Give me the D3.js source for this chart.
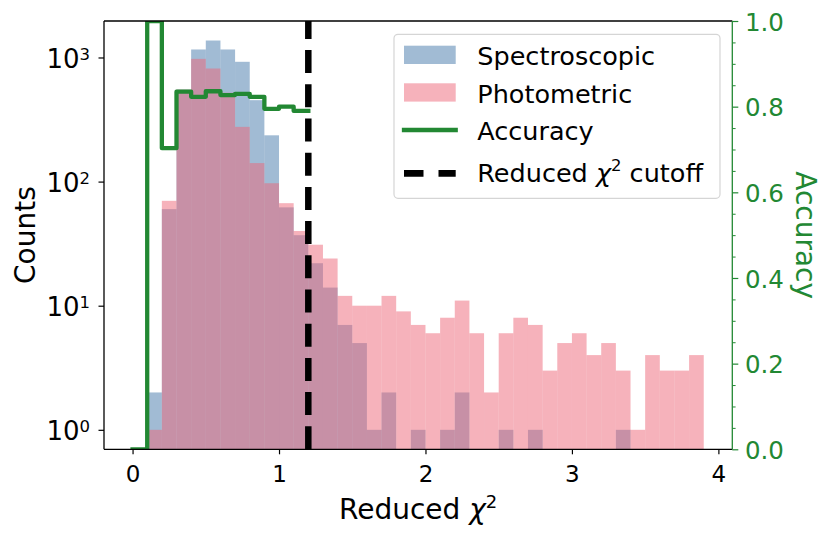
<!DOCTYPE html>
<html>
<head>
<meta charset="utf-8">
<script src="https://cdn.jsdelivr.net/npm/d3@7"></script>
<style>
  html, body { margin: 0; padding: 0; background: #ffffff; }
  svg { display: block; }
  text { font-family: "DejaVu Sans", sans-serif; }
</style>
</head>
<body>
<svg id="chart" width="831" height="538"></svg>
<script>
// ---- data ----
const binStarts = d3.range(39).map(i => +(i * 0.1).toFixed(1));
const binWidth = 0.1;
const spectroscopic = [0, 2, 60, 550, 1160, 1370, 1160, 923, 453, 236, 62, 37, 22, 14, 7, 5, 1, 2, 0, 1,
  0, 1, 2, 0, 0, 1, 0, 1, 0, 0, 0, 0, 0, 1, 0, 0, 0, 0, 0];
const photometric = [0, 1, 70, 550, 975, 815, 520, 276, 141, 97, 67, 40, 31, 24, 12, 10, 10, 12, 9, 7,
  6, 8, 11, 6, 2, 6, 8, 7, 3, 5, 6, 4, 5, 3, 1, 4, 3, 3, 4];
const accuracyStarts = [0.0, 0.1, 0.2, 0.3, 0.4, 0.5, 0.6, 0.7, 0.8, 0.9, 1.0, 1.1];
const accuracy = [0, 1.0, 0.703, 0.835, 0.823, 0.836, 0.827, 0.830, 0.823, 0.795, 0.800, 0.790];
const cutoff = 1.2;
const xTicks = [0, 1, 2, 3, 4];
const yTicks = [1, 10, 100, 1000];
const yTickExp = ["0", "1", "2", "3"];
const accTicks = [0, 0.2, 0.4, 0.6, 0.8, 1.0];
const accMinor = d3.range(21).map(i => +(i * 0.05).toFixed(2)).filter(v => Math.round(v * 100) % 20 !== 0);

// ---- styles ----
const BLUE = "#4477AA", RED = "#EE6677", GREEN = "#228833";
const L = 104, R = 732.3, T = 21, B = 449.3;

const svg = d3.select("#chart");
const x = d3.scaleLinear().domain([-0.195, 4.095]).range([L, R]);
const y = d3.scaleLog().domain([Math.pow(10, -0.157), Math.pow(10, 3.294)]).range([B, T]);
const ya = d3.scaleLinear().domain([0, 1]).range([B, T]);

svg.append("defs").append("clipPath").attr("id", "plotclip")
  .append("rect").attr("x", L).attr("y", T).attr("width", R - L).attr("height", B - T);

const plot = svg.append("g").attr("clip-path", "url(#plotclip)");

function drawHist(values, color) {
  const data = binStarts.map((s, i) => ({ s, v: values[i] })).filter(d => d.v > 0);
  plot.append("g").selectAll("rect").data(data).join("rect")
    .attr("x", d => x(d.s))
    .attr("width", d => x(d.s + binWidth) - x(d.s))
    .attr("y", d => y(d.v))
    .attr("height", d => B - y(d.v))
    .attr("fill", color)
    .attr("fill-opacity", 0.5);
}
drawHist(spectroscopic, BLUE);
drawHist(photometric, RED);

// accuracy step line
const accPts = accuracyStarts.map((s, i) => [s, accuracy[i]]);
accPts.push([accuracyStarts[accuracyStarts.length - 1] + binWidth, accuracy[accuracy.length - 1]]);
const stepLine = d3.line().x(d => x(d[0])).y(d => ya(d[1])).curve(d3.curveStepAfter);
plot.append("path").attr("d", stepLine(accPts))
  .attr("fill", "none").attr("stroke", GREEN).attr("stroke-width", 4.3)
  .attr("stroke-linecap", "square").attr("stroke-linejoin", "round");

// cutoff line (drawn from bottom up)
plot.append("line")
  .attr("x1", x(cutoff)).attr("x2", x(cutoff)).attr("y1", B).attr("y2", T)
  .attr("stroke", "#000").attr("stroke-width", 6.5).attr("stroke-dasharray", "23,11.2");

// ---- axes ----
const xAxis = svg.append("g").attr("transform", `translate(0,${B})`)
  .call(d3.axisBottom(x).tickValues(xTicks).tickSize(5).tickFormat(d3.format("d")));
xAxis.select(".domain").remove();
xAxis.selectAll(".tick line").attr("stroke", "#000").attr("stroke-width", 1.2);
xAxis.selectAll(".tick text").attr("y", 32.4).attr("dy", 0)
  .attr("font-size", 23).attr("fill", "#000").attr("font-family", "DejaVu Sans");

const yAxis = svg.append("g").attr("transform", `translate(${L},0)`)
  .call(d3.axisLeft(y).tickValues(yTicks).tickSize(5.5).tickFormat(""));
yAxis.select(".domain").remove();
yAxis.selectAll(".tick line").attr("stroke", "#000").attr("stroke-width", 1.2);
yAxis.selectAll(".tick text").remove();
yAxis.selectAll(".tick").each(function (d, i) {
  const t = d3.select(this).append("text")
    .attr("x", -14).attr("y", 9.7).attr("text-anchor", "end")
    .attr("fill", "#000").attr("font-family", "DejaVu Sans");
  t.append("tspan").attr("font-size", 26).text("10");
  t.append("tspan").attr("font-size", 16.5).attr("dy", -8).text(yTickExp[i]);
});

const aAxis = svg.append("g").attr("transform", `translate(${R},0)`)
  .call(d3.axisRight(ya).tickValues(accTicks).tickSize(6).tickFormat(d3.format(".1f")));
aAxis.select(".domain").remove();
aAxis.selectAll(".tick line").attr("stroke", GREEN).attr("stroke-width", 1.2);
aAxis.selectAll(".tick text").attr("x", 12.7).attr("dy", 0).attr("y", 9.2)
  .attr("font-size", 24.5).attr("fill", GREEN).attr("font-family", "DejaVu Sans");

const aMinor = svg.append("g").attr("transform", `translate(${R},0)`)
  .call(d3.axisRight(ya).tickValues(accMinor).tickSize(3.3).tickFormat(""));
aMinor.select(".domain").remove();
aMinor.selectAll(".tick line").attr("stroke", GREEN).attr("stroke-width", 1);

// spines
svg.append("line").attr("x1", L).attr("x2", R).attr("y1", T).attr("y2", T).attr("stroke", "#000").attr("stroke-width", 1.3);
svg.append("line").attr("x1", L).attr("x2", R).attr("y1", B).attr("y2", B).attr("stroke", "#000").attr("stroke-width", 1.3);
svg.append("line").attr("x1", L).attr("x2", L).attr("y1", T).attr("y2", B).attr("stroke", "#000").attr("stroke-width", 1.3);
svg.append("line").attr("x1", R).attr("x2", R).attr("y1", T).attr("y2", B).attr("stroke", GREEN).attr("stroke-width", 1.3);

// axis labels
const xl = svg.append("text").attr("x", (L + R) / 2).attr("y", 519.3).attr("text-anchor", "middle")
  .attr("font-size", 28).attr("fill", "#000");
xl.append("tspan").text("Reduced ");
xl.append("tspan").attr("font-style", "italic").text("χ");
xl.append("tspan").attr("font-size", 18).attr("dy", -11.5).text("2");

svg.append("text").attr("transform", `translate(35,${(T + B) / 2}) rotate(-90)`)
  .attr("text-anchor", "middle").attr("font-size", 28).attr("fill", "#000").text("Counts");

svg.append("text").attr("transform", `translate(796.4,${(T + B) / 2}) rotate(90)`)
  .attr("text-anchor", "middle").attr("font-size", 28).attr("fill", GREEN).text("Accuracy");

// ---- legend ----
const lg = svg.append("g");
lg.append("rect").attr("x", 394).attr("y", 34.3).attr("width", 326).attr("height", 164)
  .attr("rx", 4).attr("fill", "#fff").attr("fill-opacity", 0.8).attr("stroke", "#d5d5d5").attr("stroke-width", 1.2);
lg.append("rect").attr("x", 404).attr("y", 45.7).attr("width", 51.7).attr("height", 18.3)
  .attr("fill", BLUE).attr("fill-opacity", 0.5);
lg.append("rect").attr("x", 404).attr("y", 83.3).attr("width", 51.7).attr("height", 18.3)
  .attr("fill", RED).attr("fill-opacity", 0.5);
lg.append("line").attr("x1", 404).attr("x2", 455.7).attr("y1", 130).attr("y2", 130)
  .attr("stroke", GREEN).attr("stroke-width", 4.3).attr("stroke-linecap", "square");
lg.append("line").attr("x1", 404).attr("x2", 455.7).attr("y1", 173.3).attr("y2", 173.3)
  .attr("stroke", "#000").attr("stroke-width", 6.8).attr("stroke-dasharray", "19.5,15");
const legendLabels = ["Spectroscopic", "Photometric", "Accuracy"];
const legendBase = [65, 102.7, 140];
legendLabels.forEach((s, i) => {
  lg.append("text").attr("x", 477.3).attr("y", legendBase[i]).attr("font-size", 25.5).attr("fill", "#000").text(s);
});
const l4 = lg.append("text").attr("x", 477.3).attr("y", 181.7).attr("font-size", 25.5).attr("fill", "#000");
l4.append("tspan").text("Reduced ");
l4.append("tspan").attr("font-style", "italic").text("χ");
l4.append("tspan").attr("font-size", 16.5).attr("dy", -10.5).text("2");
l4.append("tspan").attr("dy", 10.5).text(" cutoff");
</script>
</body>
</html>
